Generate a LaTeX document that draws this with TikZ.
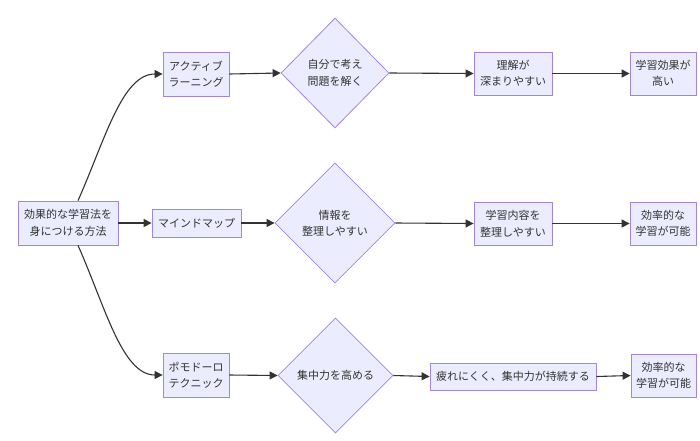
\documentclass[tikz,border=0pt]{standalone}
\usepackage{fontspec}
\setmainfont{Noto Sans CJK JP}
\usetikzlibrary{shapes.geometric,arrows.meta}
\definecolor{nfill}{HTML}{ECECFF}
\definecolor{nline}{HTML}{9370DB}
\definecolor{ink}{HTML}{333333}
\tikzset{
  box/.style={draw=nline!85!white, fill=nfill, line width=0.8pt, inner sep=0pt,
    align=center, text=ink, font=\fontsize{11}{16.5}\selectfont},
  dia/.style={box, shape=diamond},
  edge/.style={draw=ink, line width=1.1pt, -{Triangle[length=8pt,width=8pt]}}
}
\begin{document}
\begin{tikzpicture}[x=1pt,y=-1pt]
\useasboundingbox[fill=white] (0,0) rectangle (700,440);
% root
\node[box, minimum width=100pt, minimum height=44pt] (root) at (68,223) {効果的な学習法を\\身につける方法};
% top row
\node[box, minimum width=66pt, minimum height=44pt] (al) at (196,74) {アクティブ\\ラーニング};
\node[dia, minimum width=108pt, minimum height=110pt] (d1) at (335,73) {自分で考え\\問題を解く};
\node[box, minimum width=78pt, minimum height=43pt] (b1a) at (513,73.5) {理解が\\深まりやすい};
\node[box, minimum width=66pt, minimum height=43pt] (b1b) at (663,73.5) {学習効果が\\高い};
% middle row
\node[box, minimum width=89pt, minimum height=28pt] (mm) at (196.5,223) {マインドマップ};
\node[dia, minimum width=120pt, minimum height=120pt] (d2) at (335,223) {情報を\\整理しやすい};
\node[box, minimum width=78pt, minimum height=43pt] (b2a) at (513,223.5) {学習内容を\\整理しやすい};
\node[box, minimum width=66pt, minimum height=43pt] (b2b) at (663,223.5) {効率的な\\学習が可能};
% bottom row
\node[box, minimum width=66pt, minimum height=44pt] (pm) at (196,375) {ポモドーロ\\テクニック};
\node[dia, minimum width=115pt, minimum height=115pt] (d3) at (335.5,375.5) {集中力を高める};
\node[box, minimum width=166pt, minimum height=27pt] (b3a) at (513,376.5) {疲れにくく、集中力が持続する};
\node[box, minimum width=65pt, minimum height=43pt] (b3b) at (663.5,375.5) {効率的な\\学習が可能};
% edges
\draw[edge] ([xshift=10pt]root.north) .. controls (105,140) and (122,74) .. (al.west);
\draw[edge] (root.east) -- (mm.west);
\draw[edge] ([xshift=10pt]root.south) .. controls (105,306) and (122,375) .. (pm.west);
\draw[edge] (al.east) -- (d1.west);
\draw[edge] (d1.east) -- (b1a.west);
\draw[edge] (b1a.east) -- (b1b.west);
\draw[edge] (mm.east) -- (d2.west);
\draw[edge] (d2.east) -- (b2a.west);
\draw[edge] (b2a.east) -- (b2b.west);
\draw[edge] (pm.east) -- (d3.west);
\draw[edge] (d3.east) -- (b3a.west);
\draw[edge] (b3a.east) -- (b3b.west);
\end{tikzpicture}
\end{document}
